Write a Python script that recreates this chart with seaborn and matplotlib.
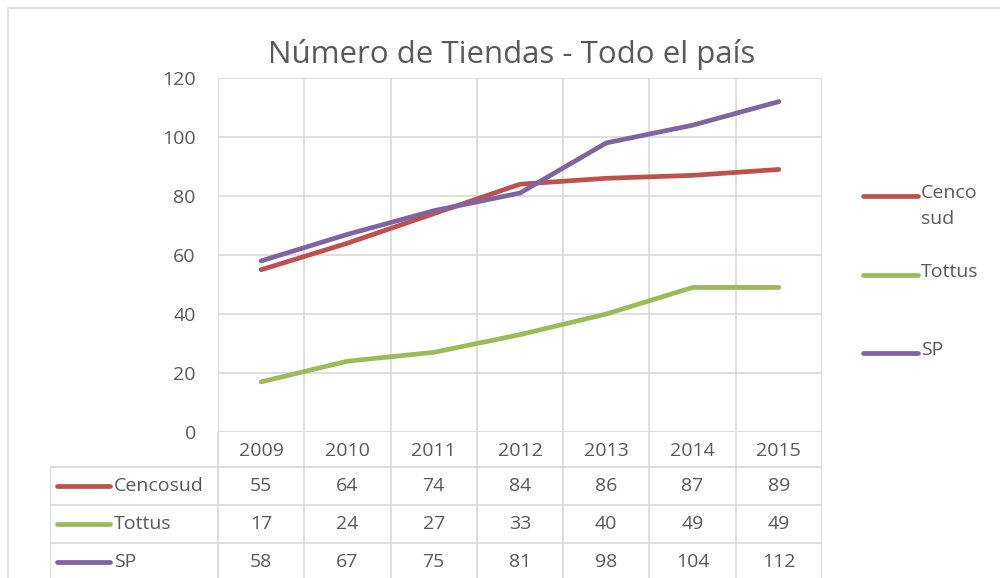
import pandas as pd
import matplotlib.pyplot as plt
import seaborn as sns
from matplotlib.lines import Line2D
from matplotlib.patches import Rectangle

years = ["2009", "2010", "2011", "2012", "2013", "2014", "2015"]
cencosud = [55, 64, 74, 84, 86, 87, 89]
tottus = [17, 24, 27, 33, 40, 49, 49]
sp = [58, 67, 75, 81, 98, 104, 112]
series_names = ["Cencosud", "Tottus", "SP"]
legend_labels = ["Cenco\nsud", "Tottus", "SP"]
colors = ["#C0504D", "#9BBB59", "#8064A2"]

df = pd.DataFrame({
    "pos": list(range(len(years))) * 3,
    "value": cencosud + tottus + sp,
    "serie": [s for s in series_names for _ in years],
})

sns.set_style("white")
plt.rcParams['font.family'] = ['Open Sans', 'DejaVu Sans']
txt = "#595959"
grid = "#D9D9D9"
fs = 14

fig = plt.figure(figsize=(10, 5.78), dpi=100)
W, H = 1000, 578

def fx(px):
    return px / W

def fy(py):
    return 1 - py / H

# outer chart frame
fig.patches.append(Rectangle((fx(8), fy(590)), 1.2, fy(8) - fy(590),
                             transform=fig.transFigure, fill=False,
                             edgecolor=grid, linewidth=1.2))

left, right, top, bottom = 218, 822, 78, 432
ax = fig.add_axes([fx(left), fy(bottom), fx(right - left), fy(top) - fy(bottom)])
sns.lineplot(data=df, x="pos", y="value", hue="serie", palette=colors,
             hue_order=series_names, linewidth=3.4, legend=False, ax=ax)
ax.set_xlim(-0.5, len(years) - 0.5)
ax.set_ylim(0, 120)
ax.set_yticks(range(0, 121, 20))
ax.set_xticks([])
for v in range(20, 121, 20):
    ax.axhline(v, color=grid, linewidth=1.2, zorder=0)
for b in range(len(years) + 1):
    ax.axvline(b - 0.5, color=grid, linewidth=1.2, zorder=0)
for sp_ in ax.spines.values():
    sp_.set_visible(False)
ax.axhline(0, color=grid, linewidth=1.2, zorder=0)
ax.tick_params(axis="y", length=0, pad=16, labelsize=fs, labelcolor=txt)
ax.set_xlabel("")
ax.set_ylabel("")

fig.text(fx(512), fy(54), "Número de Tiendas - Todo el país", ha="center",
         va="center", fontsize=22.5, color=txt)

# data table below the plot
col_w = (right - left) / len(years)
tleft = 50
tab = fig.add_axes([fx(tleft), 0, fx(right - tleft), fy(bottom)])
tab.set_xlim(-0.5 - (left - tleft) / col_w, len(years) - 0.5)
tab.set_ylim(H - bottom, 0)
tab.axis("off")
head_h, row_h = 35, 38
for b in range(len(years) + 1):
    tab.plot([b - 0.5, b - 0.5], [0, H], color=grid, linewidth=1.2)
x0 = -0.5 - (left - tleft) / col_w
tab.plot([x0, x0], [head_h, H], color=grid, linewidth=1.2)
for r in range(4):
    yy = head_h + r * row_h
    tab.plot([x0, len(years) - 0.5], [yy, yy], color=grid, linewidth=1.2)
for i, y in enumerate(years):
    tab.text(i, head_h / 2 + 1, y, ha="center", va="center", fontsize=fs, color=txt)
for r, (name, vals, c) in enumerate(zip(series_names, [cencosud, tottus, sp], colors)):
    yc = head_h + r * row_h + row_h / 2
    tab.plot([x0 + 7 / col_w, x0 + 60 / col_w], [yc, yc], color=c,
             linewidth=3.4, solid_capstyle="round")
    tab.text(x0 + 64 / col_w, yc, name, ha="left", va="center", fontsize=fs, color=txt)
    for i, v in enumerate(vals):
        tab.text(i, yc, str(v), ha="center", va="center", fontsize=fs, color=txt)

# legend on the right
for lab, c, py in zip(legend_labels, colors, [196, 275, 353]):
    fig.lines.append(Line2D([fx(863), fx(918)], [fy(py), fy(py)], transform=fig.transFigure,
                            color=c, linewidth=3.4, solid_capstyle="round"))
    fig.text(fx(921), fy(py - 12), lab, ha="left", va="top", fontsize=fs,
             color=txt, linespacing=1.55)

fig.savefig("out.png", dpi=100)
